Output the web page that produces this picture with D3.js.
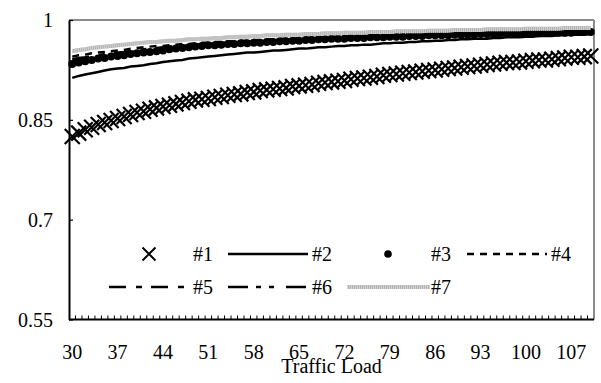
<!DOCTYPE html>
<html>
<head>
<meta charset="utf-8">
<script src="https://cdn.jsdelivr.net/npm/d3@7"></script>
<style>
  html, body { margin: 0; padding: 0; background: #fff; }
  svg { display: block; font-family: "Liberation Serif", "Times New Roman", serif; }
</style>
</head>
<body>
<svg id="chart" width="601" height="383"></svg>
<script>
// Traffic load categories (x axis)
const traffic = d3.range(30, 111);
const xTickLabels = [30, 37, 44, 51, 58, 65, 72, 79, 86, 93, 100, 107];
const yTicks = [0.55, 0.7, 0.85, 1];
const yTickLabels = ["0.55", "0.7", "0.85", "1"];
const seriesNames = ["#1", "#2", "#3", "#4", "#5", "#6", "#7"];

// Series values, one per traffic load from 30 to 110
const s1 = [0.825,0.830,0.835,0.839,0.843,0.846,0.849,0.852,0.855,0.858,
  0.861,0.863,0.866,0.868,0.870,0.872,0.874,0.876,0.878,0.880,
  0.881,0.882,0.884,0.885,0.887,0.888,0.889,0.891,0.892,0.894,
  0.895,0.896,0.897,0.898,0.900,0.901,0.902,0.903,0.905,0.906,
  0.907,0.908,0.909,0.911,0.912,0.913,0.914,0.915,0.917,0.918,
  0.919,0.920,0.921,0.922,0.923,0.924,0.925,0.926,0.927,0.928,
  0.929,0.930,0.931,0.932,0.933,0.934,0.935,0.936,0.936,0.937,
  0.938,0.939,0.940,0.940,0.941,0.942,0.943,0.944,0.944,0.945,0.946];
const s2 = [0.913,0.916,0.918,0.920,0.922,0.924,0.926,0.927,0.928,0.930,
  0.931,0.932,0.934,0.935,0.937,0.938,0.939,0.940,0.942,0.943,
  0.944,0.945,0.946,0.947,0.948,0.949,0.950,0.951,0.951,0.952,
  0.953,0.954,0.954,0.955,0.956,0.957,0.957,0.958,0.959,0.959,
  0.960,0.961,0.961,0.962,0.962,0.963,0.963,0.964,0.965,0.965,
  0.966,0.966,0.967,0.967,0.968,0.968,0.969,0.969,0.970,0.970,
  0.971,0.971,0.972,0.972,0.972,0.973,0.973,0.974,0.974,0.974,
  0.975,0.975,0.976,0.976,0.976,0.977,0.977,0.978,0.978,0.978,0.979];
const s3 = [0.934,0.936,0.938,0.940,0.942,0.943,0.945,0.946,0.947,0.949,
  0.950,0.951,0.952,0.953,0.954,0.956,0.957,0.958,0.959,0.960,
  0.961,0.962,0.962,0.963,0.964,0.964,0.965,0.965,0.966,0.966,
  0.967,0.967,0.968,0.968,0.969,0.969,0.970,0.970,0.971,0.971,
  0.972,0.972,0.972,0.973,0.973,0.973,0.974,0.974,0.974,0.975,
  0.975,0.975,0.976,0.976,0.976,0.977,0.977,0.977,0.977,0.978,
  0.978,0.978,0.978,0.979,0.979,0.979,0.979,0.979,0.980,0.980,
  0.980,0.980,0.980,0.981,0.981,0.981,0.981,0.981,0.982,0.982,0.982];
const s4 = [0.945,0.947,0.948,0.950,0.951,0.952,0.953,0.954,0.955,0.957,
  0.958,0.959,0.960,0.961,0.961,0.962,0.963,0.964,0.964,0.965,
  0.966,0.966,0.967,0.967,0.968,0.968,0.969,0.969,0.970,0.970,
  0.971,0.971,0.972,0.972,0.972,0.973,0.973,0.974,0.974,0.974,
  0.975,0.975,0.975,0.976,0.976,0.976,0.977,0.977,0.977,0.977,
  0.978,0.978,0.978,0.978,0.979,0.979,0.979,0.979,0.980,0.980,
  0.980,0.980,0.980,0.981,0.981,0.981,0.981,0.981,0.982,0.982,
  0.982,0.982,0.982,0.983,0.983,0.983,0.983,0.983,0.984,0.984,0.984];
const s5 = [0.941,0.943,0.944,0.946,0.947,0.949,0.950,0.951,0.952,0.954,
  0.955,0.956,0.957,0.958,0.959,0.960,0.960,0.961,0.962,0.963,
  0.964,0.964,0.965,0.965,0.966,0.966,0.967,0.967,0.968,0.968,
  0.969,0.969,0.970,0.970,0.970,0.971,0.971,0.972,0.972,0.972,
  0.973,0.973,0.973,0.974,0.974,0.974,0.975,0.975,0.975,0.975,
  0.976,0.976,0.976,0.977,0.977,0.977,0.978,0.978,0.978,0.978,
  0.979,0.979,0.979,0.979,0.980,0.980,0.980,0.980,0.980,0.981,
  0.981,0.981,0.981,0.981,0.982,0.982,0.982,0.982,0.982,0.983,0.983];
const s6 = [0.938,0.940,0.942,0.943,0.945,0.946,0.948,0.949,0.950,0.952,
  0.953,0.954,0.955,0.956,0.957,0.958,0.959,0.960,0.961,0.962,
  0.963,0.963,0.964,0.964,0.965,0.965,0.966,0.966,0.967,0.967,
  0.968,0.968,0.969,0.969,0.970,0.970,0.971,0.971,0.972,0.972,
  0.973,0.973,0.973,0.974,0.974,0.974,0.975,0.975,0.975,0.975,
  0.976,0.976,0.976,0.976,0.977,0.977,0.977,0.977,0.978,0.978,
  0.978,0.978,0.979,0.979,0.979,0.979,0.980,0.980,0.980,0.980,
  0.981,0.981,0.981,0.981,0.982,0.982,0.982,0.982,0.982,0.983,0.983];
const s7 = [0.953,0.955,0.956,0.958,0.959,0.960,0.961,0.962,0.963,0.964,
  0.965,0.966,0.967,0.967,0.968,0.969,0.969,0.970,0.971,0.971,
  0.972,0.972,0.973,0.973,0.974,0.974,0.975,0.975,0.976,0.976,
  0.977,0.977,0.977,0.978,0.978,0.978,0.979,0.979,0.979,0.980,
  0.980,0.980,0.981,0.981,0.981,0.981,0.982,0.982,0.982,0.982,
  0.983,0.983,0.983,0.983,0.983,0.984,0.984,0.984,0.984,0.985,
  0.985,0.985,0.985,0.985,0.986,0.986,0.986,0.986,0.986,0.986,
  0.987,0.987,0.987,0.987,0.987,0.987,0.988,0.988,0.988,0.988,0.988];

const svg = d3.select("#chart");
const plot = { left: 69, right: 594, top: 20, bottom: 319.5 };

const x = d3.scaleBand().domain(traffic).range([plot.left, plot.right]).padding(0);
const cx = c => x(c) + x.bandwidth() / 2;
const y = d3.scaleLinear().domain([0.55, 1]).range([plot.bottom, plot.top]);

// Frame: grey top/right, black axes on left/bottom
svg.append("line").attr("x1", plot.left).attr("x2", plot.right).attr("y1", plot.top).attr("y2", plot.top)
  .attr("stroke", "#8c8c8c").attr("stroke-width", 2);
svg.append("line").attr("x1", plot.right).attr("x2", plot.right).attr("y1", plot.top).attr("y2", plot.bottom)
  .attr("stroke", "#8c8c8c").attr("stroke-width", 2);

// Y axis
const yAxis = svg.append("g").attr("transform", `translate(${plot.left},0)`)
  .call(d3.axisLeft(y).tickValues(yTicks).tickSize(-4).tickSizeOuter(0).tickFormat(""));
yAxis.select(".domain").attr("stroke", "#000").attr("stroke-width", 2);
yAxis.selectAll(".tick line").attr("stroke", "#000").attr("stroke-width", 1.2);
svg.append("g").selectAll("text").data(yTicks).join("text")
  .attr("x", 53).attr("y", d => y(d)).attr("dy", "0.35em")
  .attr("text-anchor", "end").attr("font-size", 20).attr("fill", "#000")
  .text((d, i) => yTickLabels[i]);

// X axis: minor tick at every category boundary
svg.append("line").attr("x1", plot.left).attr("x2", plot.right).attr("y1", plot.bottom).attr("y2", plot.bottom)
  .attr("stroke", "#000").attr("stroke-width", 2);
svg.append("g").selectAll("line").data(traffic.slice(1)).join("line")
  .attr("x1", d => x(d)).attr("x2", d => x(d))
  .attr("y1", plot.bottom).attr("y2", plot.bottom - 4)
  .attr("stroke", "#000").attr("stroke-width", 1);
svg.append("g").selectAll("text").data(xTickLabels).join("text")
  .attr("x", d => cx(d)).attr("y", 359)
  .attr("text-anchor", "middle").attr("font-size", 20).attr("fill", "#000")
  .text(d => d);
svg.append("text").attr("x", (plot.left + plot.right) / 2).attr("y", 373)
  .attr("text-anchor", "middle").attr("font-size", 20).attr("fill", "#000")
  .text("Traffic Load");

// Series drawing helpers
const line = vals => d3.line().x((d, i) => cx(traffic[i])).y(d => y(d))(vals);
const crossPath = (px, py, r) => `M${px - r},${py - r}L${px + r},${py + r}M${px - r},${py + r}L${px + r},${py - r}`;

const styles = [
  { type: "cross" },
  { type: "line", color: "#000", width: 2.5, dash: null },
  { type: "dot" },
  { type: "line", color: "#000", width: 2.5, dash: "7,6" },
  { type: "line", color: "#000", width: 2.5, dash: "17,10,6,9" },
  { type: "line", color: "#000", width: 2.5, dash: "20,8,5,8,5,12" },
  { type: "gray" }
];
const seriesValues = [s1, s2, s3, s4, s5, s6, s7];

const marks = svg.append("g");
seriesValues.forEach((vals, k) => {
  const st = styles[k];
  if (st.type === "cross") {
    marks.append("g").selectAll("path").data(vals).join("path")
      .attr("d", (d, i) => crossPath(cx(traffic[i]), y(d), 7.5))
      .attr("stroke", "#000").attr("stroke-width", 2.2).attr("fill", "none");
  } else if (st.type === "dot") {
    marks.append("g").selectAll("circle").data(vals).join("circle")
      .attr("cx", (d, i) => cx(traffic[i])).attr("cy", d => y(d)).attr("r", 4)
      .attr("fill", "#000");
  } else if (st.type === "gray") {
    marks.append("path").attr("d", line(vals)).attr("fill", "none")
      .attr("stroke", "#b3b3b3").attr("stroke-width", 4);
    marks.append("path").attr("d", line(vals)).attr("fill", "none")
      .attr("stroke", "#d2d2d2").attr("stroke-width", 4).attr("stroke-dasharray", "1,1");
  } else {
    marks.append("path").attr("d", line(vals)).attr("fill", "none")
      .attr("stroke", st.color).attr("stroke-width", st.width)
      .attr("stroke-dasharray", st.dash);
  }
});

// Legend: four columns, two rows
const legendCols = [109, 228, 347, 467];
const legendRows = [254, 287];
const legend = svg.append("g");
seriesNames.forEach((name, k) => {
  const col = k % 4, row = Math.floor(k / 4);
  const lx = legendCols[col], ly = legendRows[row];
  const st = styles[k];
  const g = legend.append("g");
  if (st.type === "cross") {
    g.append("path").attr("d", crossPath(lx + 40, ly, 6.5))
      .attr("stroke", "#000").attr("stroke-width", 2).attr("fill", "none");
  } else if (st.type === "dot") {
    g.append("circle").attr("cx", lx + 41).attr("cy", ly).attr("r", 3.8).attr("fill", "#000");
  } else if (st.type === "gray") {
    g.append("line").attr("x1", lx).attr("x2", lx + 83).attr("y1", ly).attr("y2", ly)
      .attr("stroke", "#b3b3b3").attr("stroke-width", 4);
    g.append("line").attr("x1", lx).attr("x2", lx + 83).attr("y1", ly).attr("y2", ly)
      .attr("stroke", "#d2d2d2").attr("stroke-width", 4).attr("stroke-dasharray", "1,1");
  } else {
    g.append("line").attr("x1", lx).attr("x2", lx + 80).attr("y1", ly).attr("y2", ly)
      .attr("stroke", st.color).attr("stroke-width", st.width).attr("stroke-dasharray", st.dash);
  }
  g.append("text").attr("x", lx + 84).attr("y", ly + 7)
    .attr("font-size", 20).attr("fill", "#000").text(name);
});
</script>
</body>
</html>
